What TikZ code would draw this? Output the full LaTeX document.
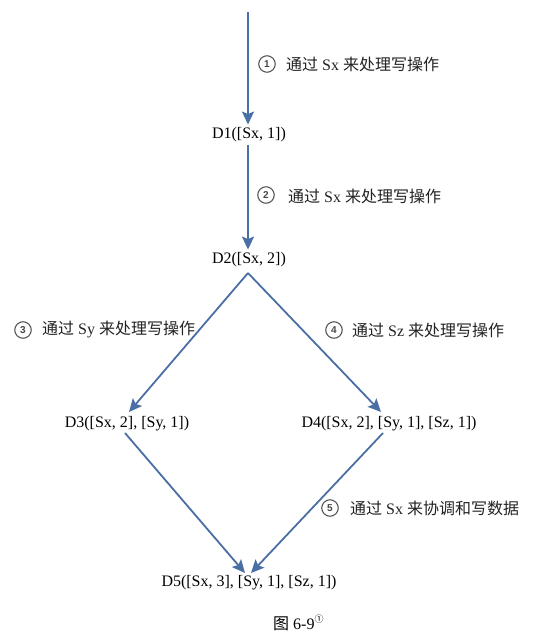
\documentclass[tikz,border=0pt]{standalone}
\usepackage{fontspec}
\setmainfont{Liberation Serif}
\newfontfamily\cjk{Noto Sans CJK SC}
\newfontfamily\numfont{Liberation Sans}
\usetikzlibrary{arrows.meta}
\definecolor{arr}{HTML}{4A6FA5}
\definecolor{lbltxt}{HTML}{222222}
\newcommand{\zh}[1]{{\cjk #1}}
\begin{document}
\begin{tikzpicture}[x=1pt,y=-1pt,
  state/.style={font=\fontsize{16}{18}\selectfont, inner sep=3pt, text=black},
  flow/.style={draw=arr, line width=1.8pt, -{Stealth[length=13pt,width=12pt,inset=2.5pt]}},
  num/.style={circle, draw=gray!70!black, line width=1.1pt, minimum size=16.5pt, inner sep=0pt, font=\numfont\bfseries\fontsize{10}{10}\selectfont, text=gray!55!black},
  lbl/.style={anchor=west, font=\fontsize{16}{18}\selectfont, inner sep=0pt, text=lbltxt}]
\useasboundingbox (0,0) rectangle (544,640);
% states
\coordinate (top) at (248,12);
\node[state] (D1) at (249,135) {D1([Sx, 1])};
\node[state] (D2) at (249,260) {D2([Sx, 2])};
\node[state] (D3) at (127,424) {D3([Sx, 2], [Sy, 1])};
\node[state] (D4) at (389,424) {D4([Sx, 2], [Sy, 1], [Sz, 1])};
\node[state] (D5) at (249,583) {D5([Sx, 3], [Sy, 1], [Sz, 1])};
\node[state, anchor=west] (cap) at (270,623) {\zh{图} 6-9\raisebox{0.45em}{\fontsize{9}{9}\selectfont\zh{①}}};
% connectors
\draw[flow] (top) -- (D1.north -| top);
\draw[flow] (D1.south -| top) -- (D2.north -| top);
\coordinate (v) at (248,273);
\coordinate (d3in) at (129,412);
\coordinate (d4in) at (381,412);
\coordinate (d3out) at (125,433);
\coordinate (d4out) at (383,433);
\coordinate (d5l) at (245,573);
\coordinate (d5r) at (251,573);
\draw[flow] (v) -- (d3in);
\draw[flow] (v) -- (d4in);
\draw[flow] (d3out) -- (d5l);
\draw[flow] (d4out) -- (d5r);
% labels
\node[num] (n1) at (267,64) {1};
\node[lbl] (t1) at (286,64) {\zh{通过} Sx \zh{来处理写操作}};
\node[num] (n2) at (266,195) {2};
\node[lbl] (t2) at (288,196) {\zh{通过} Sx \zh{来处理写操作}};
\node[num] (n3) at (23,330) {3};
\node[lbl] (t3) at (42,330) {\zh{通过} Sy \zh{来处理写操作}};
\node[num] (n4) at (334,330) {4};
\node[lbl] (t4) at (352,330) {\zh{通过} Sz \zh{来处理写操作}};
\node[num] (n5) at (330,508) {5};
\node[lbl] (t5) at (350,508) {\zh{通过} Sx \zh{来协调和写数据}};
\end{tikzpicture}
\end{document}
